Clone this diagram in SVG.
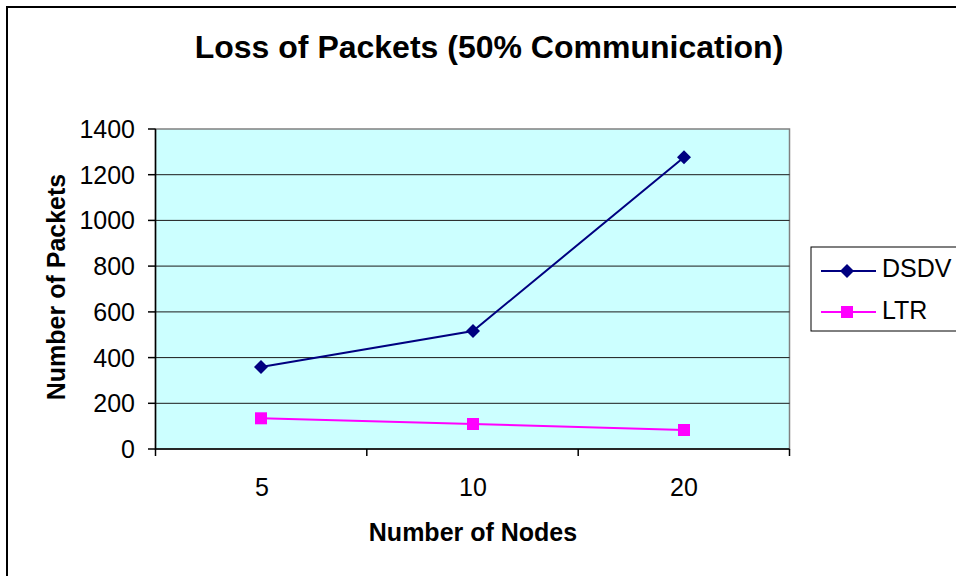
<svg xmlns="http://www.w3.org/2000/svg" width="956" height="576" viewBox="0 0 956 576">
<defs>
<style>
text{font-family:"Liberation Sans",Arial,sans-serif;fill:#000}
.title{font-size:32px;font-weight:bold}
.axt{font-size:25px;font-weight:bold}
.tick{font-size:25px}
.grid{stroke:#1a1a1a;stroke-width:1}
.axis{stroke:#000;stroke-width:1.5;fill:none}
.dsdv{stroke:#000080;stroke-width:2;fill:none}
.ltr{stroke:#FF00FF;stroke-width:2;fill:none}
</style>
<path id="dia" d="M0,-7 L7,0 L0,7 L-7,0 Z" fill="#000080"/>
<rect id="sq" x="-6" y="-6" width="12" height="12" fill="#FF00FF"/>
</defs>
<rect x="0" y="0" width="956" height="576" fill="#fff"/>
<rect x="7" y="7" width="960" height="590" fill="none" stroke="#000" stroke-width="2"/>
<text class="title" x="489" y="58" text-anchor="middle">Loss of Packets (50% Communication)</text>
<g id="plot">
<rect x="155.5" y="129" width="634" height="320" fill="#CCFFFF" stroke="#808080" stroke-width="1.5"/>
<g class="grid">
<line x1="155.5" y1="403.3" x2="789.5" y2="403.3"/>
<line x1="155.5" y1="357.6" x2="789.5" y2="357.6"/>
<line x1="155.5" y1="311.9" x2="789.5" y2="311.9"/>
<line x1="155.5" y1="266.1" x2="789.5" y2="266.1"/>
<line x1="155.5" y1="220.4" x2="789.5" y2="220.4"/>
<line x1="155.5" y1="174.7" x2="789.5" y2="174.7"/>
</g>
<path class="axis" d="M155.5,129 V449 H789.5"/>
<g class="axis">
<line x1="148" y1="129" x2="155.5" y2="129"/>
<line x1="148" y1="174.7" x2="155.5" y2="174.7"/>
<line x1="148" y1="220.4" x2="155.5" y2="220.4"/>
<line x1="148" y1="266.1" x2="155.5" y2="266.1"/>
<line x1="148" y1="311.9" x2="155.5" y2="311.9"/>
<line x1="148" y1="357.6" x2="155.5" y2="357.6"/>
<line x1="148" y1="403.3" x2="155.5" y2="403.3"/>
<line x1="148" y1="449" x2="155.5" y2="449"/>
<line x1="155.5" y1="449" x2="155.5" y2="456"/>
<line x1="366.8" y1="449" x2="366.8" y2="456"/>
<line x1="578.2" y1="449" x2="578.2" y2="456"/>
<line x1="789.5" y1="449" x2="789.5" y2="456"/>
</g>
<g class="tick" text-anchor="end">
<text x="135" y="138">1400</text>
<text x="135" y="183.7">1200</text>
<text x="135" y="229.4">1000</text>
<text x="135" y="275.1">800</text>
<text x="135" y="320.9">600</text>
<text x="135" y="366.6">400</text>
<text x="135" y="412.3">200</text>
<text x="135" y="458">0</text>
</g>
<g class="tick" text-anchor="middle">
<text x="262" y="496">5</text>
<text x="473" y="496">10</text>
<text x="684" y="496">20</text>
</g>
<text class="axt" x="473" y="541" text-anchor="middle">Number of Nodes</text>
<text class="axt" transform="translate(65,287) rotate(-90)" text-anchor="middle">Number of Packets</text>
</g>
<g id="connectors">
<polyline class="dsdv" points="261,367 473,331 684,157.3"/>
<polyline class="ltr" points="261,418.3 473,424 684,430"/>
</g>
<g id="series-dsdv">
<use href="#dia" x="261" y="367"/>
<use href="#dia" x="473" y="331"/>
<use href="#dia" x="684" y="157.3"/>
</g>
<g id="series-ltr">
<use href="#sq" x="261" y="418.3"/>
<use href="#sq" x="473" y="424"/>
<use href="#sq" x="684" y="430"/>
</g>
<g id="legend">
<rect x="811" y="247" width="160" height="84" fill="#fff" stroke="#000" stroke-width="1"/>
<line class="dsdv" x1="821" y1="271" x2="876" y2="271"/>
<use href="#dia" x="847" y="271"/>
<text class="tick" x="882" y="277">DSDV</text>
<line class="ltr" x1="821" y1="312" x2="876" y2="312"/>
<use href="#sq" x="847" y="312"/>
<text class="tick" x="882" y="319">LTR</text>
</g>
</svg>
